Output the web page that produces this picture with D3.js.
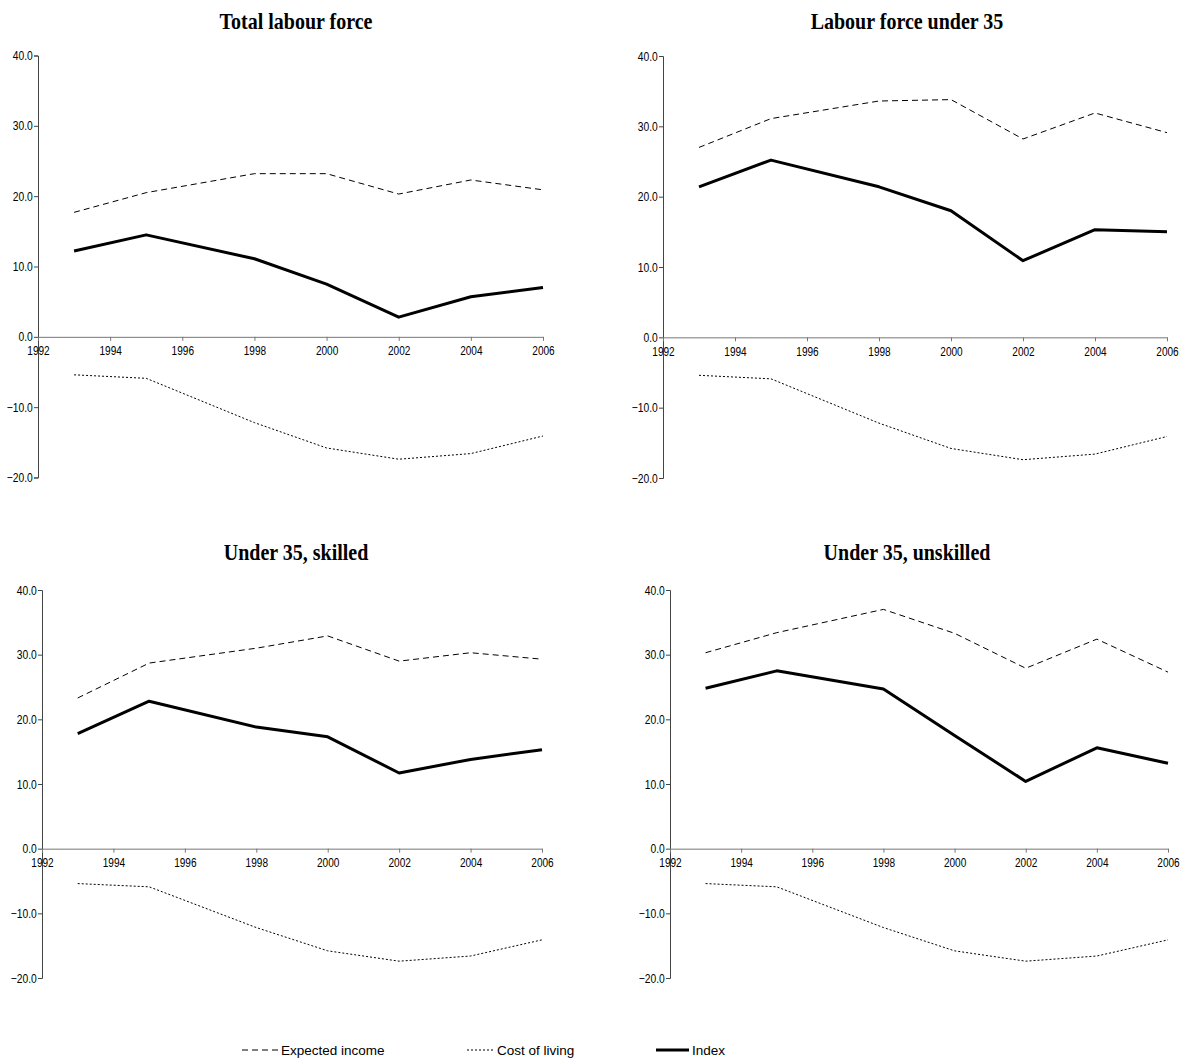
<!DOCTYPE html>
<html>
<head>
<meta charset="utf-8">
<script src="https://cdn.jsdelivr.net/npm/d3@7"></script>
<style>
  body { margin: 0; background: #fff; }
  svg { display: block; }
  .title { font-family: "Liberation Serif", "Times New Roman", serif; font-weight: bold; font-size: 21.5px; text-anchor: middle; }
  .axis text { font-family: "Liberation Sans", Arial, sans-serif; font-size: 12px; fill: #000; }
  .legend text { font-family: "Liberation Sans", Arial, sans-serif; font-size: 13.5px; }
</style>
</head>
<body>
<svg width="1189" height="1062"></svg>
<script>
// **** data ****
const years = [1993, 1995, 1998, 2000, 2002, 2004, 2006];
const xTicks = [1992, 1994, 1996, 1998, 2000, 2002, 2004, 2006];
const yTicks = [-20, -10, 0, 10, 20, 30, 40];

const panelTitles = ['Total labour force', 'Labour force under 35', 'Under 35, skilled', 'Under 35, unskilled'];

const expectedTotal     = [17.7, 20.5, 23.2, 23.2, 20.3, 22.3, 20.9];
const expectedUnder35   = [27.0, 31.1, 33.6, 33.8, 28.2, 31.9, 29.1];
const expectedSkilled   = [23.3, 28.7, 31.0, 32.9, 29.0, 30.3, 29.3];
const expectedUnskilled = [30.3, 33.4, 37.0, 33.3, 27.9, 32.4, 27.3];

const indexTotal     = [12.2, 14.5, 11.1, 7.5, 2.8, 5.7, 7.0];
const indexUnder35   = [21.4, 25.2, 21.4, 18.0, 10.9, 15.3, 15.0];
const indexSkilled   = [17.8, 22.8, 18.8, 17.3, 11.7, 13.8, 15.3];
const indexUnskilled = [24.8, 27.5, 24.7, 17.5, 10.4, 15.6, 13.2];

const costOfLiving = [-5.4, -5.9, -12.2, -15.8, -17.4, -16.6, -14.1];

const expectedSeries = [expectedTotal, expectedUnder35, expectedSkilled, expectedUnskilled];
const indexSeries = [indexTotal, indexUnder35, indexSkilled, indexUnskilled];

// **** layout of the four panels ****
const panels = [
  { x0: 38,  x1: 543,  yTop: 55.5, yBot: 477.5, titleX: 296, titleY: 29 },
  { x0: 663, x1: 1167, yTop: 56,   yBot: 478,   titleX: 907, titleY: 29 },
  { x0: 42,  x1: 542,  yTop: 590,  yBot: 978,   titleX: 296, titleY: 560 },
  { x0: 670, x1: 1168, yTop: 590,  yBot: 978,   titleX: 907, titleY: 560 }
];

const svg = d3.select('svg');

panels.forEach((p, i) => {
  const xScale = d3.scaleLinear().domain([1992, 2006]).range([p.x0, p.x1]);
  const yScale = d3.scaleLinear().domain([-20, 40]).range([p.yBot, p.yTop]);

  const g = svg.append('g');

  g.append('text')
    .attr('class', 'title')
    .attr('transform', `translate(${p.titleX},${p.titleY}) scale(0.93,1.05)`)
    .text(panelTitles[i]);

  // y axis
  const yAxis = g.append('g').attr('class', 'axis')
    .attr('transform', `translate(${p.x0},0)`)
    .call(d3.axisLeft(yScale).tickValues(yTicks).tickSize(4).tickSizeOuter(4).tickPadding(2).tickFormat(d3.format('.1f')));
  yAxis.selectAll('path, line').attr('stroke', '#444');
  yAxis.selectAll('text').attr('transform', 'scale(0.86,1.05)');

  // x axis at zero
  const xAxis = g.append('g').attr('class', 'axis')
    .attr('transform', `translate(0,${yScale(0)})`)
    .call(d3.axisBottom(xScale).tickValues(xTicks).tickSize(4).tickSizeOuter(0).tickPadding(5).tickFormat(d3.format('d')));
  xAxis.selectAll('path, line').attr('stroke', '#777');
  xAxis.selectAll('text').attr('transform', 'scale(0.84,1.05)');

  const line = d3.line()
    .x((d, j) => xScale(years[j]))
    .y(d => yScale(d));

  g.append('path')
    .datum(expectedSeries[i])
    .attr('d', line)
    .attr('fill', 'none')
    .attr('stroke', '#000')
    .attr('stroke-width', 1)
    .attr('stroke-dasharray', '6,4');

  g.append('path')
    .datum(costOfLiving)
    .attr('d', line)
    .attr('fill', 'none')
    .attr('stroke', '#000')
    .attr('stroke-width', 1)
    .attr('stroke-dasharray', '2,2');

  g.append('path')
    .datum(indexSeries[i])
    .attr('d', line)
    .attr('fill', 'none')
    .attr('stroke', '#000')
    .attr('stroke-width', 3)
    .attr('stroke-linejoin', 'round');
});

// **** legend ****
const legendItems = [
  { label: 'Expected income', x: 242, len: 36, dash: '6,4', width: 1 },
  { label: 'Cost of living', x: 467, len: 27, dash: '2,2', width: 1 },
  { label: 'Index', x: 656, len: 33, dash: null, width: 3 }
];

const legend = svg.append('g').attr('class', 'legend');
legendItems.forEach(item => {
  const lg = legend.append('g').attr('transform', `translate(${item.x},1050)`);
  lg.append('line')
    .attr('x1', 0).attr('x2', item.len)
    .attr('y1', 0).attr('y2', 0)
    .attr('stroke', '#000')
    .attr('stroke-width', item.width)
    .attr('stroke-dasharray', item.dash);
  lg.append('text')
    .attr('x', item.len + 3)
    .attr('y', 5)
    .text(item.label);
});
</script>
</body>
</html>
